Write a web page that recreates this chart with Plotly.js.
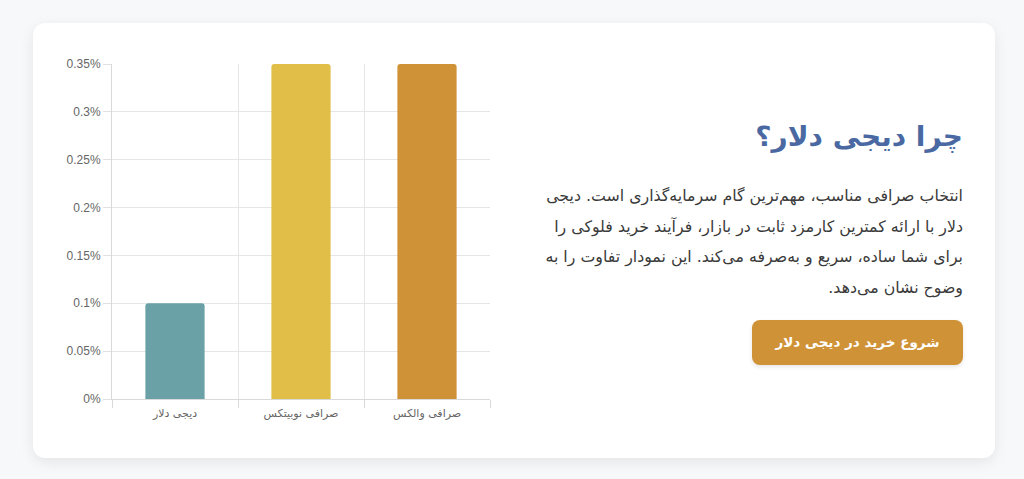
<!DOCTYPE html>
<html lang="fa">
<head>
<meta charset="utf-8">
<script src="https://cdn.plot.ly/plotly-3.0.1.min.js"></script>
<style>
  html, body { margin: 0; padding: 0; background: #f7f8fa; width: 1024px; height: 479px; overflow: hidden; }
  .card { position: absolute; left: 33px; top: 23px; width: 962px; height: 435px; background: #fff;
          border-radius: 12px; box-shadow: 0 4px 14px rgba(0,0,0,0.08); }
  #chart { position: absolute; left: 40px; top: 50px; width: 460px; height: 390px; }
  .text { position: absolute; right: 61px; top: 109px; width: 440px; direction: rtl; text-align: right;
          font-family: "DejaVu Sans", "Noto Sans", sans-serif; }
  h2 { margin: 0; font-size: 28px; font-weight: bold; color: #4a69a2; line-height: 56px; }
  p { margin: 16px 0 0 0; font-size: 15.8px; line-height: 30.5px; color: #3a3a3a; }
  .btn { position: absolute; right: 61px; top: 320px; width: 211px; height: 45px; background: #d09236;
         border-radius: 8px; color: #fff; font-family: "DejaVu Sans", sans-serif; font-weight: bold;
         font-size: 13.5px; line-height: 45px; text-align: center; direction: rtl;
         box-shadow: 0 2px 4px rgba(0,0,0,0.1); }
</style>
</head>
<body>
<div class="card"></div>
<div id="chart"></div>
<div class="text">
  <h2>چرا دیجی دلار؟</h2>
  <p>انتخاب صرافی مناسب، مهم‌ترین گام سرمایه‌گذاری است. دیجی<br>دلار با ارائه کمترین کارمزد ثابت در بازار، فرآیند خرید فلوکی را<br>برای شما ساده، سریع و به‌صرفه می‌کند. این نمودار تفاوت را به<br>وضوح نشان می‌دهد.</p>
</div>
<div class="btn">شروع خرید در دیجی دلار</div>
<script>
const categories = ["دیجی دلار", "صرافی نوبیتکس", "صرافی والکس"];
const feePercent = [0.1, 0.35, 0.35];
const barColors = ["#6aa1a6", "#e0be47", "#d09236"];
const yTickVals = [0, 0.05, 0.1, 0.15, 0.2, 0.25, 0.3, 0.35];
const yTickText = ["0%", "0.05%", "0.1%", "0.15%", "0.2%", "0.25%", "0.3%", "0.35%"];

const trace = {
  type: "bar",
  x: categories,
  y: feePercent,
  marker: { color: barColors, cornerradius: 3 },
  width: 0.47,
  hoverinfo: "none"
};
const gridC = "#e6e6e6";
const layout = {
  width: 460, height: 390,
  margin: { l: 72, r: 10, t: 14, b: 41 },
  paper_bgcolor: "rgba(0,0,0,0)",
  plot_bgcolor: "#fff",
  showlegend: false,
  font: { family: "Liberation Sans, Arial, sans-serif", size: 12, color: "#666666" },
  xaxis: {
    type: "category",
    tickson: "boundaries",
    ticks: "outside", ticklen: 8, tickwidth: 1, tickcolor: "#d9d9d9",
    ticklabelstandoff: 4,
    showgrid: true, gridcolor: gridC,
    showline: true, linecolor: "#d9d9d9",
    tickfont: { family: "DejaVu Sans, sans-serif", size: 11, color: "#666666" },
    color: "#666666",
    fixedrange: true
  },
  yaxis: {
    range: [0, 0.35],
    tickvals: yTickVals, ticktext: yTickText,
    ticks: "outside", ticklen: 8, tickwidth: 1, tickcolor: "#e0e0e0",
    showgrid: true, gridcolor: gridC,
    showline: true, linecolor: "#d9d9d9",
    zeroline: false,
    tickfont: { family: "Liberation Sans, Arial, sans-serif", size: 12, color: "#666666" },
    color: "#666666",
    fixedrange: true
  }
};
Plotly.newPlot("chart", [trace], layout, { displayModeBar: false, staticPlot: true });
</script>
</body>
</html>
